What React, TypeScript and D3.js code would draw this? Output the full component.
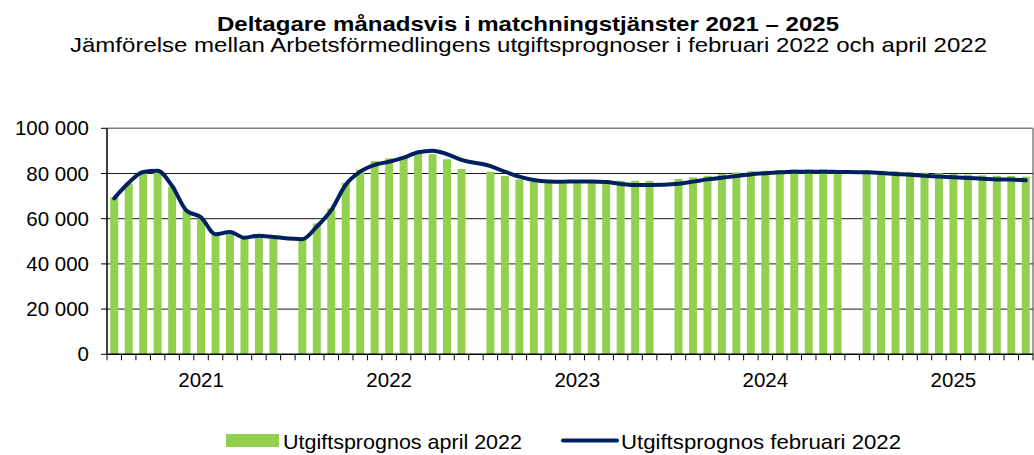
import React from "react";
import * as d3 from "d3";

// 5 years x 12 months, with one empty category between years
const years = ["2021", "2022", "2023", "2024", "2025"];
const months = ["jan", "feb", "mar", "apr", "maj", "jun", "jul", "aug", "sep", "okt", "nov", "dec"];

// Utgiftsprognos april 2022 (bars); null = empty separator category
const aprilValues: (number | null)[] = [
  69500, 75500, 80900, 81300, 74200, 63900, 60200, 52800, 53200, 51300, 51700, 51300, null,
  50600, 57900, 64500, 75900, 81800, 85500, 86700, 87400, 89200, 88500, 86300, 82000, null,
  80800, 78900, 77400, 76400, 75700, 75400, 75700, 75900, 77100, 76800, 76800, 76800, null,
  77600, 78300, 79000, 79800, 80500, 81000, 81200, 81500, 81800, 81800, 81800, 81500, null,
  81500, 81200, 81000, 80700, 80400, 80100, 79800, 79500, 79200, 79000, 78900, 78600,
];

// Utgiftsprognos februari 2022 (line)
const februaryValues: (number | null)[] = [
  69000, 75900, 80700, 81200, 74500, 63500, 60600, 53100, 54100, 51600, 52500, 51900, null,
  50900, 56500, 63800, 75000, 80800, 83800, 85200, 87000, 89400, 90100, 88600, 86000, null,
  83300, 80800, 78600, 77100, 76500, 76400, 76500, 76500, 76200, 75400, 74900, 74900, null,
  75500, 76400, 77400, 78100, 78900, 79600, 80100, 80500, 80800, 80800, 80800, 80700, null,
  80500, 80200, 79800, 79500, 79000, 78700, 78300, 78000, 77700, 77400, 77300, 77000,
];

const yTicks = [0, 20000, 40000, 60000, 80000, 100000];
const yTickLabels = ["0", "20 000", "40 000", "60 000", "80 000", "100 000"];

const titleText = "Deltagare månadsvis i matchningstjänster 2021 – 2025";
const subtitleText = "Jämförelse mellan Arbetsförmedlingens utgiftsprognoser i februari 2022 och april 2022";
const seriesNames = ["Utgiftsprognos april 2022", "Utgiftsprognos februari 2022"];

// build category keys (months of each year + blank separators)
const categories: string[] = [];
years.forEach((y, yi) => {
  months.forEach((m) => categories.push(`${y}-${m}`));
  if (yi < years.length - 1) categories.push(`gap-${y}`);
});

const W = 1034;
const H = 455;
const left = 107;
const right = 1033;
const top = 128.3;
const bottom = 354.3;

const GREEN = "#92D050";
const NAVY = "#002060";
const FONT = "'Liberation Sans', Arial, sans-serif";

export default function App() {
  const x = d3.scaleBand<string>().domain(categories).range([left, right]).padding(0);
  const y = d3.scaleLinear().domain([0, 100000]).range([bottom, top]);
  const bw = x.bandwidth();
  const barW = bw * 0.55;

  const linePts = categories
    .map((c, i) => ({ c, v: februaryValues[i] }))
    .filter((d) => d.v !== null) as { c: string; v: number }[];
  const lineGen = d3
    .line<{ c: string; v: number }>()
    .x((d) => (x(d.c) as number) + bw / 2)
    .y((d) => y(d.v))
    .curve(d3.curveMonotoneX);

  return (
    <svg
      width={W}
      height={H}
      style={{ position: "absolute", left: 0, top: 0, background: "#fff" }}
      fontFamily={FONT}
    >
      <rect x={0} y={0} width={W} height={H} fill="#fff" />
      {/* titles */}
      <text x={528} y={31} textAnchor="middle" fontSize={20.5} fontWeight="bold" fill="#000"
        textLength={622} lengthAdjust="spacingAndGlyphs">
        {titleText}
      </text>
      <text x={528.5} y={52} textAnchor="middle" fontSize={21} fill="#000"
        textLength={917} lengthAdjust="spacingAndGlyphs">
        {subtitleText}
      </text>

      {/* plot border top/right */}
      <line x1={left} x2={right} y1={top} y2={top} stroke="#808080" strokeWidth={1.5} />
      <line x1={right} x2={right} y1={top} y2={bottom} stroke="#808080" strokeWidth={1.5} />

      {/* gridlines */}
      {yTicks.slice(1, -1).map((t) => (
        <line key={t} x1={left} x2={right} y1={y(t)} y2={y(t)} stroke="#1a1a1a" strokeWidth={1} />
      ))}

      {/* bars */}
      {categories.map((c, i) => {
        const v = aprilValues[i];
        if (v === null) return null;
        return (
          <rect
            key={c}
            x={(x(c) as number) + (bw - barW) / 2}
            y={y(v)}
            width={barW}
            height={y(0) - y(v)}
            fill={GREEN}
          />
        );
      })}

      {/* line */}
      <path d={lineGen(linePts) || ""} fill="none" stroke={NAVY} strokeWidth={4} strokeLinejoin="round" strokeLinecap="round" />

      {/* axes */}
      <line x1={left} x2={left} y1={top} y2={bottom} stroke="#000" strokeWidth={1.5} />
      <line x1={left} x2={right} y1={bottom} y2={bottom} stroke="#000" strokeWidth={1.5} />
      {yTicks.map((t, i) => (
        <g key={t}>
          <line x1={left - 6} x2={left} y1={y(t)} y2={y(t)} stroke="#000" strokeWidth={1} />
          <text x={89} y={y(t)} dy="0.35em" textAnchor="end" fontSize={20.5} fill="#000">
            {yTickLabels[i]}
          </text>
        </g>
      ))}
      {categories.map((c) => (
        <line key={c} x1={x(c) as number} x2={x(c) as number} y1={bottom} y2={bottom + 6} stroke="#000" strokeWidth={1} />
      ))}
      <line x1={right} x2={right} y1={bottom} y2={bottom + 6} stroke="#000" strokeWidth={1} />
      {years.map((yr) => {
        const c = `${yr}-jul`;
        return (
          <text key={yr} x={(x(c) as number) + bw / 2} y={387} textAnchor="middle" fontSize={20.5} fill="#000">
            {yr}
          </text>
        );
      })}

      {/* legend */}
      <rect x={226} y={434} width={53} height={13} fill={GREEN} />
      <text x={283} y={449} fontSize={21} fill="#000" textLength={239} lengthAdjust="spacingAndGlyphs">
        {seriesNames[0]}
      </text>
      <line x1={563} x2={617} y1={440.5} y2={440.5} stroke={NAVY} strokeWidth={4} strokeLinecap="round" />
      <text x={621} y={449} fontSize={21} fill="#000" textLength={280} lengthAdjust="spacingAndGlyphs">
        {seriesNames[1]}
      </text>
    </svg>
  );
}
